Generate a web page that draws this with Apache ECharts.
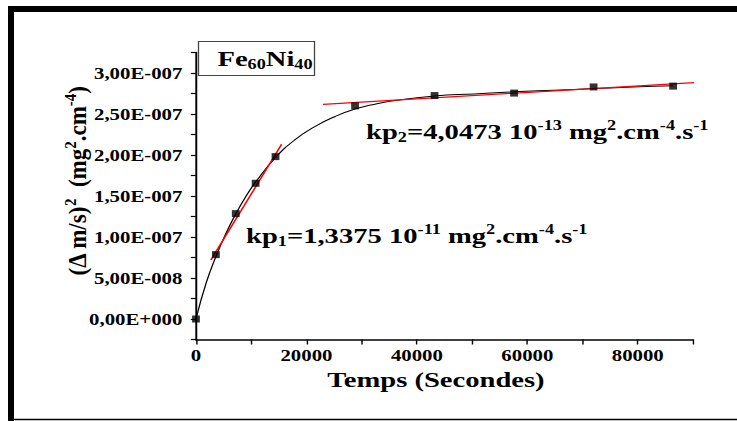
<!DOCTYPE html>
<html>
<head>
<meta charset="utf-8">
<script src="https://cdn.jsdelivr.net/npm/echarts@6/dist/echarts.min.js"></script>
<style>
  html, body { margin: 0; padding: 0; background: #fff; overflow: hidden; }
  /* The figure is laid out on a narrower canvas and widened, like the original export */
  #chart { width: 567px; height: 421px; transform: scaleX(1.29982); transform-origin: 0 0; }
</style>
</head>
<body>
<div id="chart"></div>
<script>
// Oxidation kinetics of Fe60Ni40: squared mass gain per unit area vs time
const timeSec    = [0, 3600, 7200, 10800, 14400, 28800, 43200, 57600, 72000, 86400];
const massGainSq = [0, 7.85e-8, 1.285e-7, 1.655e-7, 1.98e-7, 2.60e-7, 2.725e-7, 2.755e-7, 2.83e-7, 2.84e-7];

// Smoothed trend through the measurements
const curveTime  = [0, 1800, 3600, 5400, 7200, 9000, 10800, 14400, 18000, 21600, 25200, 28800, 32400, 36000, 43200, 50400, 57600, 64800, 72000, 79200, 86400];
const curveValue = [0, 4.3e-8, 7.6e-8, 1.04e-7, 1.28e-7, 1.49e-7, 1.67e-7, 1.97e-7, 2.19e-7, 2.35e-7, 2.47e-7, 2.56e-7, 2.62e-7, 2.665e-7, 2.72e-7, 2.745e-7, 2.77e-7, 2.79e-7, 2.81e-7, 2.83e-7, 2.845e-7];

// Linear fits of the two parabolic regimes (end points)
const fit1Time  = [2700, 15500];
const fit1Value = [7.2e-8, 2.13e-7];
const fit2Time  = [23000, 90200];
const fit2Value = [2.618e-7, 2.882e-7];

// Axis tick labels
const yTickLabels = ['0,00E+000', '5,00E-008', '1,00E-007', '1,50E-007', '2,00E-007', '2,50E-007', '3,00E-007'];
const xTickLabels = ['0', '20000', '40000', '60000', '80000'];

const FONT = 'Liberation Serif, Times New Roman, serif';
const SX = 1.29982; // horizontal widening applied to the whole figure

const zip = (xs, ys) => xs.map((x, i) => [x, ys[i]]);

const chart = echarts.init(document.getElementById('chart'), null, { renderer: 'svg' });

const mainStyle = (size) => ({ fontSize: size, fontWeight: 'bold', fontFamily: FONT, fill: '#000', lineHeight: size + 4 });
const supStyle = (size) => ({ fontSize: size, fontWeight: 'bold', fontFamily: FONT, fill: '#000', verticalAlign: 'top', lineHeight: size });
const subStyle = (size) => ({ fontSize: size, fontWeight: 'bold', fontFamily: FONT, fill: '#000', verticalAlign: 'bottom', lineHeight: size });

function richLabel(size, smallSize) {
  return { m: mainStyle(size), sup: supStyle(smallSize), sub: subStyle(smallSize) };
}

const option = {
  animation: false,
  backgroundColor: '#fff',
  textStyle: { fontFamily: FONT },
  grid: { left: 196 / SX, right: 44 / SX, top: 52.5, bottom: 81.5, containLabel: false, outerBoundsMode: 'none' },
  xAxis: {
    type: 'value',
    min: 0,
    max: 90000,
    interval: 10000,
    axisLine: { show: true, onZero: false, lineStyle: { color: '#000', width: 1.5 } },
    axisTick: { show: true, inside: false, length: 5, lineStyle: { color: '#000', width: 1.1 } },
    splitLine: { show: false },
    axisLabel: {
      margin: 8,
      color: '#000',
      fontFamily: FONT,
      fontWeight: 'bold',
      fontSize: 16,
      formatter: (v) => {
        const k = Math.round(v / 10000);
        return k % 2 === 0 && k / 2 < xTickLabels.length ? xTickLabels[k / 2] : '';
      }
    }
  },
  yAxis: {
    type: 'value',
    min: -2.5e-8,
    max: 3.25e-7,
    interval: 2.5e-8,
    axisLine: { show: true, onZero: false, lineStyle: { color: '#000', width: 1.5 } },
    axisTick: { show: true, inside: false, length: 4, lineStyle: { color: '#000', width: 1.2 } },
    splitLine: { show: false },
    axisLabel: {
      margin: 10.5,
      color: '#000',
      fontFamily: FONT,
      fontWeight: 'bold',
      fontSize: 16,
      formatter: (v) => {
        const k = Math.round(v / 2.5e-8);
        if (k < 0 || k % 2 !== 0) return '';
        return yTickLabels[k / 2] || '';
      }
    }
  },
  series: [
    {
      name: 'tendance',
      type: 'line',
      data: zip(curveTime, curveValue),
      smooth: true,
      showSymbol: false,
      lineStyle: { color: '#000', width: 1 },
      z: 2
    },
    {
      name: 'kp1',
      type: 'line',
      data: zip(fit1Time, fit1Value),
      showSymbol: false,
      lineStyle: { color: '#ff0000', width: 1.3 },
      z: 3
    },
    {
      name: 'kp2',
      type: 'line',
      data: zip(fit2Time, fit2Value),
      showSymbol: false,
      lineStyle: { color: '#ff0000', width: 1.3 },
      z: 3
    },
    {
      name: 'mesures',
      type: 'scatter',
      data: zip(timeSec, massGainSq),
      symbol: 'rect',
      symbolSize: [6, 7],
      itemStyle: { color: '#000' },
      z: 5
    }
  ],
  graphic: [
    // page frame
    { type: 'rect', shape: { x: 8 / SX, y: 6, width: 729 / SX, height: 6 }, style: { fill: '#000' }, z: 100 },
    { type: 'rect', shape: { x: 8 / SX, y: 6, width: 6 / SX, height: 415 }, style: { fill: '#000' }, z: 100 },
    { type: 'rect', shape: { x: 8 / SX, y: 418.8, width: 729 / SX, height: 1.4 }, style: { fill: '#000' }, z: 100 },
    // alloy label box
    { type: 'rect', shape: { x: 198.5 / SX, y: 41.5, width: 116 / SX, height: 34 }, style: { fill: '#fff', stroke: '#444', lineWidth: 1 }, z: 50 },
    {
      type: 'text', x: 265 / SX, y: 59, z: 51,
      style: {
        text: '{m|Fe}{sub|60}{m|Ni}{sub|40}',
        rich: richLabel(22, 14),
        align: 'center', verticalAlign: 'middle'
      }
    },
    // axis titles
    {
      type: 'text', x: 77 / SX, y: 181, rotation: Math.PI / 2, scaleY: 0.85, z: 51,
      style: {
        text: '{m|(Δ m/s)}{sup|2}{m|  (mg}{sup|2}{m|.cm}{sup|-4}{m|)}',
        rich: richLabel(23, 15),
        align: 'center', verticalAlign: 'middle'
      }
    },
    {
      type: 'text', x: 436 / SX, y: 380, z: 51,
      style: {
        text: 'Temps (Secondes)',
        fontSize: 22, fontWeight: 'bold', fontFamily: FONT, fill: '#000',
        align: 'center', verticalAlign: 'middle'
      }
    },
    // rate constant annotations
    {
      type: 'text', x: 366 / SX, y: 132, z: 51,
      style: {
        text: '{m|kp}{sub|2}{m|=4,0473 10}{sup|-13}{m| mg}{sup|2}{m|.cm}{sup|-4}{m|.s}{sup|-1}',
        rich: richLabel(22, 14),
        align: 'left', verticalAlign: 'middle'
      }
    },
    {
      type: 'text', x: 246 / SX, y: 236, z: 51,
      style: {
        text: '{m|kp}{sub|1}{m|=1,3375 10}{sup|-11}{m| mg}{sup|2}{m|.cm}{sup|-4}{m|.s}{sup|-1}',
        rich: richLabel(22, 14),
        align: 'left', verticalAlign: 'middle'
      }
    }
  ]
};

chart.setOption(option);
</script>
</body>
</html>
